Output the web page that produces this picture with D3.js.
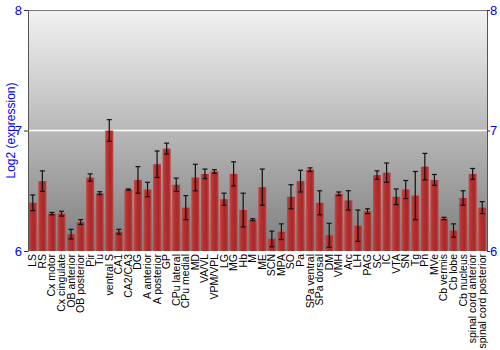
<!DOCTYPE html>
<html><head><meta charset="utf-8">
<script src="https://cdn.jsdelivr.net/npm/d3@7"></script>
<style>body{margin:0;background:#fff}svg{display:block}</style>
</head><body>
<svg id="c" width="500" height="350"></svg>
<script>
const categories = ["LS","RS","Cx motor","Cx cingulate","OB anterior","OB posterior","Pir","Tu","ventral S","CA1","CA2/CA3","DG","A anterior","A posterior","GP","CPu lateral","CPu medial","MD","VA/VL","VPM/VPL","LG","MG","Hb","M","ME","SCN","MPA","SO","Pa","SPa ventral","SPa dorsal","DM","VMH","Arc","LH","PAG","SC","IC","VTA","SN","Tg","Pn","MVe","Cb vermis","Cb lobe","Cb nucleus","spinal cord anterior","spinal cord posterior"];
const values = [6.40,6.58,6.31,6.31,6.14,6.24,6.61,6.48,7.00,6.16,6.51,6.59,6.51,6.72,6.85,6.55,6.36,6.61,6.64,6.66,6.43,6.64,6.34,6.26,6.53,6.10,6.16,6.45,6.58,6.675,6.40,6.13,6.475,6.42,6.21,6.33,6.63,6.65,6.45,6.51,6.46,6.70,6.59,6.27,6.17,6.44,6.64,6.36];
const errors = [0.065,0.085,0.01,0.02,0.04,0.02,0.03,0.012,0.09,0.02,0.005,0.11,0.06,0.11,0.045,0.055,0.1,0.11,0.04,0.015,0.05,0.1,0.14,0.008,0.15,0.065,0.065,0.1,0.09,0.015,0.1,0.1,0.015,0.08,0.13,0.02,0.035,0.08,0.065,0.075,0.2,0.11,0.045,0.01,0.055,0.06,0.045,0.05];
const yTicks = [6,7,8];
const yTitle = "Log2 (expression)";

const svg = d3.select("#c");
const m = {l:28, r:13, t:10, b:99};
const W = 500, H = 350;
const x = d3.scaleBand().domain(categories).range([m.l, W-m.r]).paddingInner(0.16).paddingOuter(0.08);
const y = d3.scaleLinear().domain([6,8]).range([H-m.b, m.t]);

const defs = svg.append("defs");
const bg = defs.append("linearGradient").attr("id","bg").attr("x1",0).attr("y1",0).attr("x2",0).attr("y2",1);
bg.append("stop").attr("offset","0%").attr("stop-color","#f2f2f2");
bg.append("stop").attr("offset","100%").attr("stop-color","#7e7e7e");
const bar = defs.append("linearGradient").attr("id","bar").attr("x1",0).attr("y1",0).attr("x2",1).attr("y2",0);
bar.append("stop").attr("offset","0%").attr("stop-color","#c24a4a");
bar.append("stop").attr("offset","30%").attr("stop-color","#b83030");
bar.append("stop").attr("offset","70%").attr("stop-color","#a82828");
bar.append("stop").attr("offset","100%").attr("stop-color","#bf4545");

svg.append("rect").attr("x",m.l).attr("y",m.t).attr("width",W-m.r-m.l).attr("height",H-m.b-m.t).attr("fill","url(#bg)");
// gridline
svg.append("g").selectAll("line").data(yTicks.filter(d=>d>6&&d<8)).join("line")
  .attr("x1",m.l).attr("x2",W-m.r).attr("y1",d=>y(d)).attr("y2",d=>y(d)).attr("stroke","#ffffff").attr("stroke-width",1.5);
svg.append("line").attr("x1",m.l).attr("x2",W-m.r).attr("y1",m.t+0.5).attr("y2",m.t+0.5).attr("stroke","#777");

// bars
svg.append("g").selectAll("rect").data(categories).join("rect")
  .attr("x",d=>x(d)).attr("width",x.bandwidth())
  .attr("y",(d,i)=>y(values[i])).attr("height",(d,i)=>y(6)-y(values[i]))
  .attr("fill","url(#bar)");
// error bars
const eg = svg.append("g").attr("stroke","#111").attr("stroke-width",1.2);
categories.forEach((c,i)=>{
  const cx = x(c)+x.bandwidth()/2;
  const y1 = y(values[i]+errors[i]), y2 = y(values[i]-errors[i]);
  eg.append("line").attr("x1",cx).attr("x2",cx).attr("y1",y1).attr("y2",y2);
  eg.append("line").attr("x1",cx-2.5).attr("x2",cx+2.5).attr("y1",y1).attr("y2",y1);
  eg.append("line").attr("x1",cx-2.5).attr("x2",cx+2.5).attr("y1",y2).attr("y2",y2);
});

// axes
const la = svg.append("g").attr("transform",`translate(${m.l},0)`).call(d3.axisLeft(y).tickValues(yTicks).tickSize(4).tickFormat(d3.format("d")));
const ra = svg.append("g").attr("transform",`translate(${W-m.r},0)`).call(d3.axisRight(y).tickValues(yTicks).tickSize(3).tickFormat(d3.format("d")));
[la,ra].forEach(a=>{
  a.select(".domain").attr("stroke","#555");
  a.selectAll(".tick line").attr("stroke","#333");
  a.selectAll("text").attr("fill","#0000ff").style("font-family","Liberation Sans, Arial, sans-serif").style("font-size","13px");
});
la.selectAll("text").attr("x",-6);
ra.selectAll("text").attr("x",3);

// x labels
svg.append("g").selectAll("text").data(categories).join("text")
  .attr("transform",d=>`translate(${x(d)+x.bandwidth()/2+3.5},${H-m.b+3}) rotate(-90)`)
  .attr("text-anchor","end")
  .style("font-family","Liberation Sans, Arial, sans-serif").style("font-size","10.5px").attr("fill","#000")
  .text(d=>d);

svg.append("text").attr("transform",`translate(15,${(m.t+H-m.b)/2}) rotate(-90)`)
  .attr("text-anchor","middle").attr("fill","#0000ff")
  .style("font-family","Liberation Sans, Arial, sans-serif").style("font-size","12px").text(yTitle);
</script>
</body></html>
